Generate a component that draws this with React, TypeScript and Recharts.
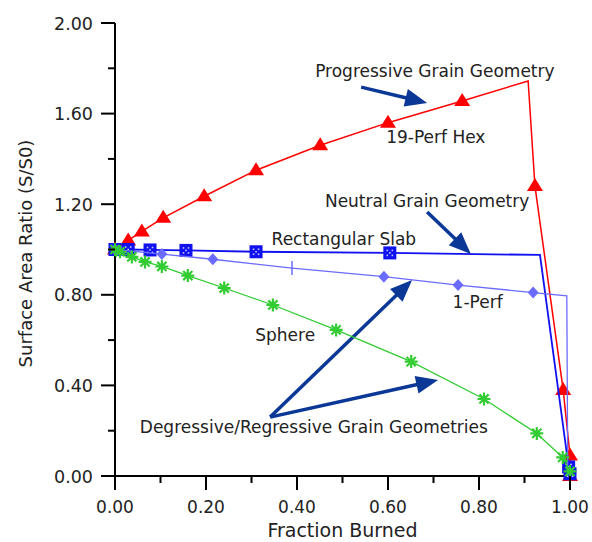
import React from 'react';
import { ScatterChart, Scatter, XAxis, YAxis, ReferenceLine, ReferenceDot, Label } from 'recharts';

const xTicks = [0, 0.1, 0.2, 0.3, 0.4, 0.5, 0.6, 0.7, 0.8, 0.9, 1];
const xLabeled = [0, 0.2, 0.4, 0.6, 0.8, 1];
const yTicks = [0, 0.2, 0.4, 0.6, 0.8, 1, 1.2, 1.4, 1.6, 1.8, 2];
const yLabeled = [0, 0.4, 0.8, 1.2, 1.6, 2];

// 19-Perf Hex (progressive)
const hexX = [0, 0.029, 0.059, 0.106, 0.196, 0.31, 0.451, 0.6, 0.763, 0.908, 0.923, 0.985, 1.0, 1.0];
const hexY = [1.0, 1.04, 1.08, 1.14, 1.235, 1.35, 1.46, 1.56, 1.656, 1.744, 1.28, 0.38, 0.09, 0.0];
const hexMark = [1, 1, 1, 1, 1, 1, 1, 1, 1, 0, 1, 1, 1, 1];

// Rectangular Slab (neutral)
const slabX = [0, 0.029, 0.077, 0.156, 0.31, 0.604, 0.934, 0.997, 1.0];
const slabY = [1.0, 1.0, 0.998, 0.996, 0.99, 0.985, 0.976, 0.04, 0.01];
const slabMark = [1, 1, 1, 1, 1, 1, 0, 1, 1];

// 1-Perf
const perfX = [0, 0.103, 0.215, 0.389, 0.591, 0.754, 0.919, 0.993, 0.995];
const perfY = [1.0, 0.98, 0.957, 0.918, 0.88, 0.843, 0.81, 0.795, 0.02];
const perfMark = ['d', 'd', 'd', '|', 'd', 'd', 'd', '', ''];

// Sphere (degressive)
const sphX = [0, 0.011, 0.037, 0.066, 0.103, 0.16, 0.24, 0.347, 0.486, 0.651, 0.811, 0.927, 0.984, 1.0];
const sphY = [1.0, 0.99, 0.967, 0.945, 0.925, 0.885, 0.83, 0.755, 0.645, 0.505, 0.34, 0.188, 0.082, 0.02];

const notes = [
  'Progressive Grain Geometry',
  '19-Perf Hex',
  'Neutral Grain Geometry',
  'Rectangular Slab',
  '1-Perf',
  'Sphere',
  'Degressive/Regressive Grain Geometries',
];
const noteX = [0.703, 0.705, 0.686, 0.503, 0.797, 0.374, 0.437];
const noteY = [1.762, 1.47, 1.188, 1.02, 0.742, 0.596, 0.19];

const arrowFrom = [
  { x: 0.541, y: 1.717 },
  { x: 0.686, y: 1.166 },
  { x: 0.341, y: 0.26 },
  { x: 0.341, y: 0.26 },
];
const arrowTo = [
  { x: 0.686, y: 1.647 },
  { x: 0.782, y: 0.98 },
  { x: 0.653, y: 0.865 },
  { x: 0.71, y: 0.424 },
];

const FONT = '"DejaVu Sans", sans-serif';
const TEXT = '#222';
const NAVY = '#0b3896';
const RED = '#ff0000';
const BLUE = '#1010f0';
const PERI = '#6b6bff';
const GREEN = '#33cc33';

const hexData = hexX.map((x, i) => ({ x, y: hexY[i], m: hexMark[i] }));
const slabData = slabX.map((x, i) => ({ x, y: slabY[i], m: slabMark[i] }));
const perfData = perfX.map((x, i) => ({ x, y: perfY[i], m: perfMark[i] }));
const sphData = sphX.map((x, i) => ({ x, y: sphY[i] }));

const triangle = (p: any) => {
  const { cx, cy, payload } = p;
  if (!payload.m) return <g />;
  return <path d={`M${cx},${cy - 8}L${cx + 8},${cy + 5}L${cx - 8},${cy + 5}Z`} fill={RED} />;
};

const square = (p: any) => {
  const { cx, cy, payload } = p;
  if (!payload.m) return <g />;
  const dots = [
    [-2.5, -2.5],
    [2.5, -2.5],
    [0, 0],
    [-2.5, 2.5],
    [2.5, 2.5],
  ];
  return (
    <g>
      <rect x={cx - 6.5} y={cy - 6.5} width={13} height={13} fill={BLUE} />
      {dots.map(([dx, dy], k) => (
        <rect key={k} x={cx + dx - 0.8} y={cy + dy - 0.8} width={1.6} height={1.6} fill="#fff" opacity={0.75} />
      ))}
    </g>
  );
};

const diamond = (p: any) => {
  const { cx, cy, payload } = p;
  if (payload.m === 'd') {
    return <path d={`M${cx},${cy - 6}L${cx + 5.5},${cy}L${cx},${cy + 6}L${cx - 5.5},${cy}Z`} fill={PERI} />;
  }
  if (payload.m === '|') {
    return <line x1={cx} x2={cx} y1={cy - 7} y2={cy + 7} stroke={PERI} strokeWidth={1.5} />;
  }
  return <g />;
};

const star = (p: any) => {
  const { cx, cy } = p;
  const r = 6.5;
  const d = [0, 45, 90, 135]
    .map((a) => {
      const t = (a * Math.PI) / 180;
      return `M${cx - r * Math.cos(t)},${cy - r * Math.sin(t)}L${cx + r * Math.cos(t)},${cy + r * Math.sin(t)}`;
    })
    .join('');
  return (
    <g>
      <path d={d} stroke={GREEN} strokeWidth={2.2} />
      <circle cx={cx} cy={cy} r={2.5} fill={GREEN} />
    </g>
  );
};

const arrow = (p: any) => {
  const { x1, y1, x2, y2 } = p;
  const dx = x2 - x1;
  const dy = y2 - y1;
  const len = Math.hypot(dx, dy) || 1;
  const ux = dx / len;
  const uy = dy / len;
  const hl = 22;
  const hw = 9;
  const bx = x2 - ux * hl;
  const by = y2 - uy * hl;
  return (
    <g>
      <line x1={x1} y1={y1} x2={bx + ux * 3} y2={by + uy * 3} stroke={NAVY} strokeWidth={3.5} />
      <path d={`M${x2},${y2}L${bx - uy * hw},${by + ux * hw}L${bx + uy * hw},${by - ux * hw}Z`} fill={NAVY} />
    </g>
  );
};

const YTick = (props: any) => {
  const { x, y, payload } = props;
  const major = yLabeled.includes(payload.value);
  return (
    <g>
      <line x1={x - (major ? 14 : 7)} x2={x} y1={y} y2={y} stroke="#000" strokeWidth={2} />
      {major && (
        <text x={x - 22} y={y + 6.5} textAnchor="end" fontFamily={FONT} fontSize={17.5} fill={TEXT}>
          {payload.value.toFixed(2)}
        </text>
      )}
    </g>
  );
};

const XTick = (props: any) => {
  const { x, y, payload } = props;
  const major = xLabeled.includes(payload.value);
  return (
    <g>
      <line x1={x} x2={x} y1={y} y2={y + (major ? 14 : 7)} stroke="#000" strokeWidth={2} />
      {major && (
        <text x={x} y={y + 37} textAnchor="middle" fontFamily={FONT} fontSize={17} fill={TEXT}>
          {payload.value.toFixed(2)}
        </text>
      )}
    </g>
  );
};

export default function App() {
  return (
    <div style={{ position: 'absolute', left: 0, top: 0, background: '#fff' }}>
      <ScatterChart width={592} height={542} margin={{ top: 23, right: 22, bottom: 0, left: 0 }}>
        <XAxis
          type="number"
          dataKey="x"
          domain={[0, 1]}
          ticks={xTicks}
          interval={0}
          height={66}
          tickSize={0}
          tickMargin={0}
          tickLine={false}
          axisLine={{ stroke: '#000', strokeWidth: 2 }}
          tick={<XTick />}
        >
          <Label
            content={(p: any) => {
              const vb = p.viewBox;
              return (
                <text x={vb.x + vb.width / 2} y={vb.y + 61} textAnchor="middle" fontFamily={FONT} fontSize={19} fill={TEXT}>
                  Fraction Burned
                </text>
              );
            }}
          />
        </XAxis>
        <YAxis
          type="number"
          dataKey="y"
          domain={[0, 2]}
          ticks={yTicks}
          interval={0}
          width={115}
          tickSize={0}
          tickMargin={0}
          tickLine={false}
          axisLine={{ stroke: '#000', strokeWidth: 2 }}
          tick={<YTick />}
        >
          <Label
            content={(p: any) => {
              const vb = p.viewBox;
              const cy = vb.y + vb.height / 2 + 4;
              return (
                <text
                  x={32}
                  y={cy}
                  transform={`rotate(-90, 32, ${cy})`}
                  textAnchor="middle"
                  fontFamily={FONT}
                  fontSize={18}
                  fill={TEXT}
                >
                  Surface Area Ratio (S/S0)
                </text>
              );
            }}
          />
        </YAxis>
        <Scatter data={hexData} line={{ stroke: RED, strokeWidth: 1.5 }} lineType="joint" shape={triangle} isAnimationActive={false} />
        <Scatter data={slabData} line={{ stroke: BLUE, strokeWidth: 1.8 }} lineType="joint" shape={square} isAnimationActive={false} />
        <Scatter data={perfData} line={{ stroke: PERI, strokeWidth: 1.3 }} lineType="joint" shape={diamond} isAnimationActive={false} />
        <Scatter data={sphData} line={{ stroke: GREEN, strokeWidth: 1.3 }} lineType="joint" shape={star} isAnimationActive={false} />
        {arrowFrom.map((a, i) => (
          <ReferenceLine key={`ar-${i}`} segment={[a, arrowTo[i]]} shape={arrow} ifOverflow="visible" />
        ))}
        {notes.map((t, i) => (
          <ReferenceDot
            key={`nt-${i}`}
            x={noteX[i]}
            y={noteY[i]}
            r={0}
            ifOverflow="visible"
            shape={(p: any) => (
              <text x={p.cx} y={p.cy} textAnchor="middle" fontFamily={FONT} fontSize={17} fill={TEXT}>
                {t}
              </text>
            )}
          />
        ))}
      </ScatterChart>
    </div>
  );
}
